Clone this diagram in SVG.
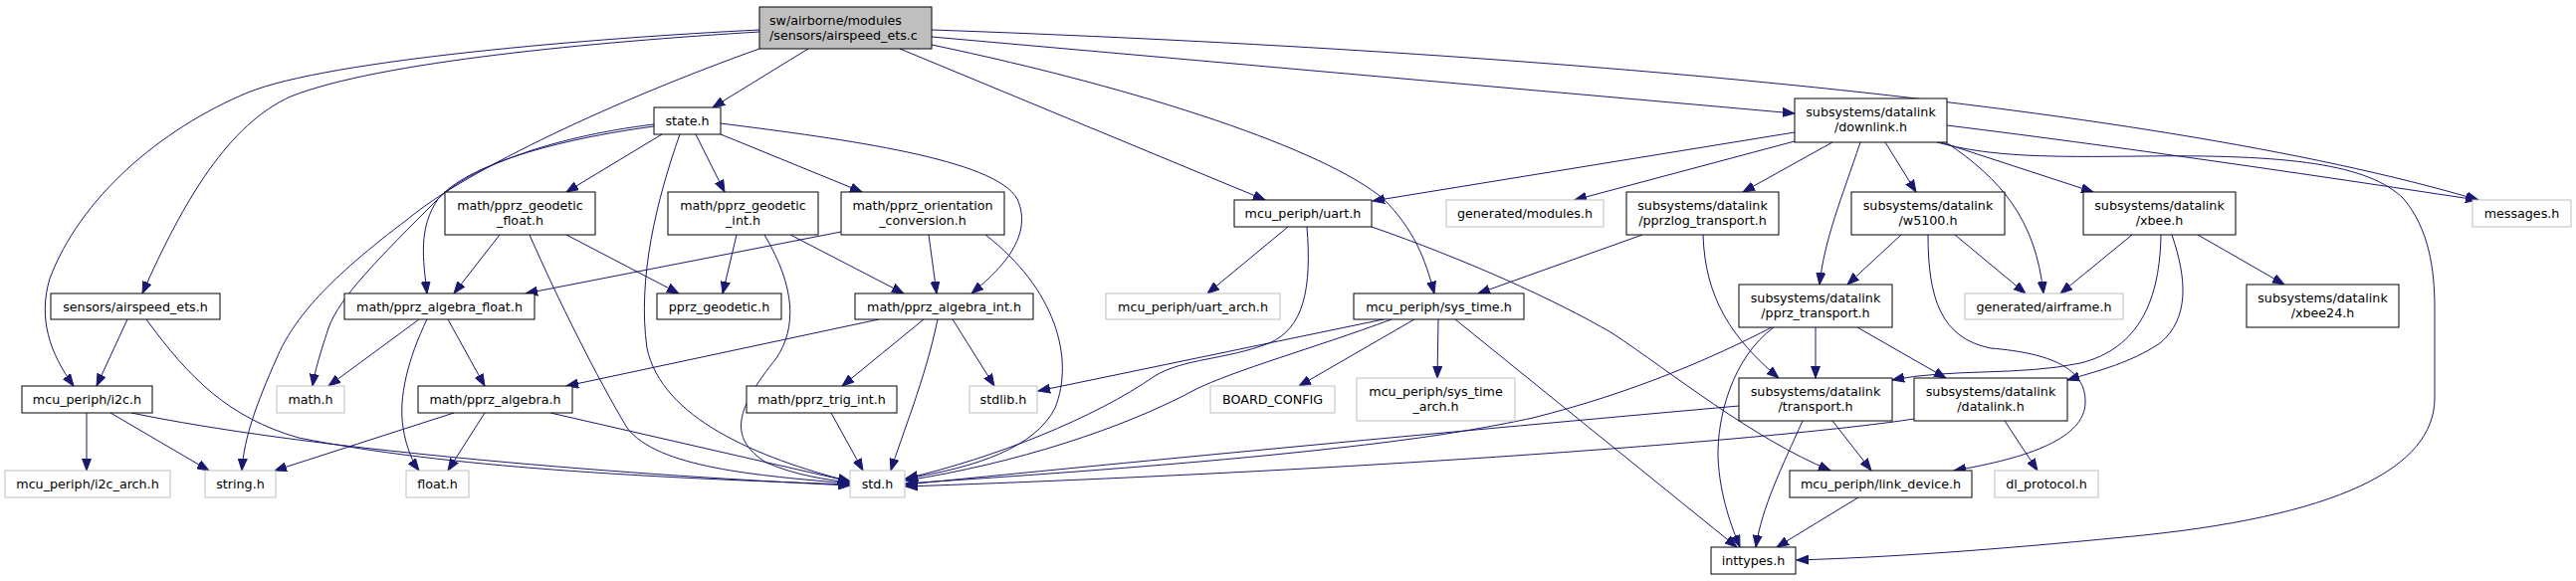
<svg xmlns="http://www.w3.org/2000/svg" width="2588" height="584" viewBox="0 0 2588 584">
<style>
.n rect{fill:#ffffff;stroke:#000000;stroke-width:1}
.g rect{fill:#ffffff;stroke:#bfbfbf;stroke-width:1}
.r rect{fill:#bfbfbf;stroke:#000000;stroke-width:1}
text{font-family:"DejaVu Sans","Liberation Sans",sans-serif;font-size:12.7px;fill:#000000;text-anchor:middle}
.r text{text-anchor:start}
#edges path{fill:none;stroke:#191970;stroke-width:1;marker-end:url(#a)}
</style>
<defs>
<marker id="a" markerUnits="userSpaceOnUse" markerWidth="13" markerHeight="10" refX="12" refY="5" orient="auto">
<path d="M0,0.5 L12,5 L0,9.5 z" fill="#191970" stroke="#191970" stroke-width="1"/>
</marker>
</defs>
<rect width="2588" height="584" fill="#ffffff"/>
<g id="edges">
<path d="M812,49 L716,108"/>
<path d="M763,30 C600,38 330,60 249,93 C160,130 80,200 50,280 C38,320 50,355 74,388"/>
<path d="M763,32 C600,42 380,62 292,97 C230,125 185,200 143,295"/>
<path d="M763,49 C620,100 470,170 410,220 C330,280 295,320 278,360 C258,405 245,440 243,473"/>
<path d="M904,49 L1271,201"/>
<path d="M936,45 C1150,90 1330,150 1390,200 C1420,230 1432,260 1441,295"/>
<path d="M936,37 L1803,114"/>
<path d="M936,30 C1500,50 2150,100 2490,201"/>
<path d="M1803,133 L1379,202"/>
<path d="M1803,142 L1582,201"/>
<path d="M1841,143 L1751,193"/>
<path d="M1869,143 C1850,200 1833,240 1828,286"/>
<path d="M1894,143 L1925,193"/>
<path d="M1955,143 C2010,180 2045,220 2053,295"/>
<path d="M1950,143 L2103,193"/>
<path d="M1956,126 C2150,150 2350,180 2489,201"/>
<path d="M1946,143 C2000,158 2060,158 2150,157 C2300,155 2380,165 2415,200 C2440,230 2446,270 2446,310 L2446,400 C2446,470 2350,520 2133,540 C2000,553 1900,560 1805,563"/>
<path d="M1294,228 L1213,295"/>
<path d="M1313,228 C1318,290 1310,330 1275,345 C1230,362 1190,360 1160,378 C1100,420 1000,460 910,481"/>
<path d="M1390,321 L1043,393"/>
<path d="M1398,321 C1320,350 1240,372 1200,392 C1130,430 1020,466 910,483"/>
<path d="M1421,321 L1305,388"/>
<path d="M1445,321 L1444,380"/>
<path d="M1462,321 L1745,550"/>
<path d="M1650,236 L1485,295"/>
<path d="M1711,236 C1713,300 1740,340 1787,380"/>
<path d="M1910,236 L1856,286"/>
<path d="M1964,236 L2035,295"/>
<path d="M1937,236 C1937,300 1950,340 2000,350 C2060,355 2096,370 2095,405 C2094,440 2040,460 1963,473"/>
<path d="M2142,236 L2070,295"/>
<path d="M2208,236 L2295,286"/>
<path d="M2171,236 C2170,300 2150,350 2090,365 C2030,378 1960,370 1901,382"/>
<path d="M2182,236 C2197,280 2200,320 2170,345 C2140,365 2110,372 2077,382"/>
<path d="M1824,329 L1824,380"/>
<path d="M1866,329 L1955,380"/>
<path d="M1782,329 C1740,360 1725,420 1726,460 C1728,500 1740,530 1748,550"/>
<path d="M1780,329 C1720,360 1640,395 1540,420 C1470,435 1400,445 1280,457 C1150,470 1000,480 910,486"/>
<path d="M1841,423 L1880,473"/>
<path d="M1811,423 C1790,470 1770,510 1764,550"/>
<path d="M1747,408 C1500,430 1200,458 910,487"/>
<path d="M2014,423 L2047,473"/>
<path d="M1923,421 C1800,440 1400,472 910,489"/>
<path d="M1867,500 L1785,550"/>
<path d="M1378,228 C1470,260 1560,300 1620,335 C1680,375 1760,440 1839,473"/>
<path d="M665,135 L569,193"/>
<path d="M699,135 L728,193"/>
<path d="M724,135 L866,193"/>
<path d="M724,124 C850,140 1000,160 1022,200 C1040,240 1000,275 976,295"/>
<path d="M683,135 C660,200 640,280 650,350 C665,420 760,460 854,484"/>
<path d="M657,127 C560,140 470,165 440,200 C420,230 425,260 429,295"/>
<path d="M657,125 C550,138 470,170 440,200 C380,260 340,300 330,330 C320,360 316,375 314,388"/>
<path d="M502,236 L456,295"/>
<path d="M569,236 L682,295"/>
<path d="M532,236 C560,300 600,380 630,430 C660,470 760,478 854,486"/>
<path d="M740,236 L726,295"/>
<path d="M794,236 L908,295"/>
<path d="M768,236 C800,290 800,330 780,360 C740,410 730,440 770,465 C800,478 830,482 854,485"/>
<path d="M845,233 L528,295"/>
<path d="M933,236 L941,295"/>
<path d="M990,236 C1060,290 1080,360 1060,410 C1040,450 980,470 910,481"/>
<path d="M421,321 L330,388"/>
<path d="M429,321 C410,360 400,400 405,430 C408,450 415,465 421,473"/>
<path d="M450,321 L487,388"/>
<path d="M883,321 L569,388"/>
<path d="M928,321 L846,388"/>
<path d="M942,321 C930,380 905,440 895,473"/>
<path d="M957,321 L999,388"/>
<path d="M456,415 L276,473"/>
<path d="M487,415 L450,473"/>
<path d="M553,415 L854,484"/>
<path d="M835,415 L867,473"/>
<path d="M87,415 L87,473"/>
<path d="M111,415 L210,473"/>
<path d="M132,415 C300,450 600,476 854,488"/>
<path d="M128,321 L97,388"/>
<path d="M147,321 C190,380 230,420 300,440 C450,470 650,480 854,487"/>
</g>
<g id="root" class="r"><rect x="763" y="7" width="173" height="42"/><text x="773" y="24.5">sw/airborne/modules</text><text x="773" y="39.5">/sensors/airspeed_ets.c</text></g>
<g id="state" class="n"><rect x="657" y="108" width="67" height="27"/><text x="690.5" y="126">state.h</text></g>
<g id="geo_float" class="n"><rect x="447" y="193" width="151" height="43"/><text x="522.5" y="210.5">math/pprz_geodetic</text><text x="522.5" y="225.5">_float.h</text></g>
<g id="geo_int" class="n"><rect x="671" y="193" width="151" height="43"/><text x="746.5" y="210.5">math/pprz_geodetic</text><text x="746.5" y="225.5">_int.h</text></g>
<g id="orient" class="n"><rect x="845" y="193" width="164" height="43"/><text x="927" y="210.5">math/pprz_orientation</text><text x="927" y="225.5">_conversion.h</text></g>
<g id="uart" class="n"><rect x="1240" y="201" width="138" height="27"/><text x="1309" y="219">mcu_periph/uart.h</text></g>
<g id="modules" class="g"><rect x="1453" y="201" width="158" height="27"/><text x="1532" y="219">generated/modules.h</text></g>
<g id="downlink" class="n"><rect x="1803" y="99" width="153" height="44"/><text x="1879.5" y="116.5">subsystems/datalink</text><text x="1879.5" y="131.5">/downlink.h</text></g>
<g id="pprzlog" class="n"><rect x="1634" y="193" width="153" height="43"/><text x="1710.5" y="210.5">subsystems/datalink</text><text x="1710.5" y="225.5">/pprzlog_transport.h</text></g>
<g id="w5100" class="n"><rect x="1860" y="193" width="154" height="43"/><text x="1937" y="210.5">subsystems/datalink</text><text x="1937" y="225.5">/w5100.h</text></g>
<g id="xbee" class="n"><rect x="2093" y="193" width="153" height="43"/><text x="2169.5" y="210.5">subsystems/datalink</text><text x="2169.5" y="225.5">/xbee.h</text></g>
<g id="messages" class="g"><rect x="2484" y="201" width="99" height="27"/><text x="2533.5" y="219">messages.h</text></g>
<g id="airspeed_h" class="n"><rect x="51" y="295" width="170" height="26"/><text x="136" y="312.5">sensors/airspeed_ets.h</text></g>
<g id="alg_float" class="n"><rect x="346" y="295" width="191" height="26"/><text x="441.5" y="312.5">math/pprz_algebra_float.h</text></g>
<g id="geodetic" class="n"><rect x="660" y="295" width="125" height="26"/><text x="722.5" y="312.5">pprz_geodetic.h</text></g>
<g id="alg_int" class="n"><rect x="859" y="295" width="179" height="26"/><text x="948.5" y="312.5">math/pprz_algebra_int.h</text></g>
<g id="uart_arch" class="g"><rect x="1111" y="295" width="175" height="26"/><text x="1198.5" y="312.5">mcu_periph/uart_arch.h</text></g>
<g id="sys_time" class="n"><rect x="1360" y="295" width="171" height="26"/><text x="1445.5" y="312.5">mcu_periph/sys_time.h</text></g>
<g id="pprz_transport" class="n"><rect x="1747" y="286" width="154" height="43"/><text x="1824" y="303.5">subsystems/datalink</text><text x="1824" y="318.5">/pprz_transport.h</text></g>
<g id="airframe" class="g"><rect x="1974" y="295" width="159" height="26"/><text x="2053.5" y="312.5">generated/airframe.h</text></g>
<g id="xbee24" class="n"><rect x="2257" y="286" width="153" height="43"/><text x="2333.5" y="303.5">subsystems/datalink</text><text x="2333.5" y="318.5">/xbee24.h</text></g>
<g id="i2c" class="n"><rect x="22" y="388" width="131" height="27"/><text x="87.5" y="406">mcu_periph/i2c.h</text></g>
<g id="math" class="g"><rect x="278" y="388" width="68" height="27"/><text x="312" y="406">math.h</text></g>
<g id="algebra" class="n"><rect x="420" y="388" width="155" height="27"/><text x="497.5" y="406">math/pprz_algebra.h</text></g>
<g id="trig" class="n"><rect x="750" y="388" width="151" height="27"/><text x="825.5" y="406">math/pprz_trig_int.h</text></g>
<g id="stdlib" class="g"><rect x="974" y="388" width="68" height="27"/><text x="1008" y="406">stdlib.h</text></g>
<g id="board" class="g"><rect x="1216" y="388" width="125" height="27"/><text x="1278.5" y="406">BOARD_CONFIG</text></g>
<g id="sys_time_arch" class="g"><rect x="1363" y="380" width="159" height="43"/><text x="1442.5" y="397.5">mcu_periph/sys_time</text><text x="1442.5" y="412.5">_arch.h</text></g>
<g id="transport" class="n"><rect x="1747" y="380" width="154" height="43"/><text x="1824" y="397.5">subsystems/datalink</text><text x="1824" y="412.5">/transport.h</text></g>
<g id="datalink" class="n"><rect x="1923" y="380" width="154" height="43"/><text x="2000" y="397.5">subsystems/datalink</text><text x="2000" y="412.5">/datalink.h</text></g>
<g id="i2c_arch" class="g"><rect x="5" y="473" width="166" height="27"/><text x="88" y="491">mcu_periph/i2c_arch.h</text></g>
<g id="string" class="g"><rect x="206" y="473" width="71" height="27"/><text x="241.5" y="491">string.h</text></g>
<g id="float" class="g"><rect x="408" y="473" width="63" height="27"/><text x="439.5" y="491">float.h</text></g>
<g id="std" class="g"><rect x="854" y="473" width="55" height="27"/><text x="881.5" y="491">std.h</text></g>
<g id="link_device" class="n"><rect x="1798" y="473" width="183" height="27"/><text x="1889.5" y="491">mcu_periph/link_device.h</text></g>
<g id="dl_protocol" class="g"><rect x="2004" y="473" width="104" height="27"/><text x="2056" y="491">dl_protocol.h</text></g>
<g id="inttypes" class="n"><rect x="1719" y="550" width="85" height="27"/><text x="1761.5" y="568">inttypes.h</text></g>
</svg>
